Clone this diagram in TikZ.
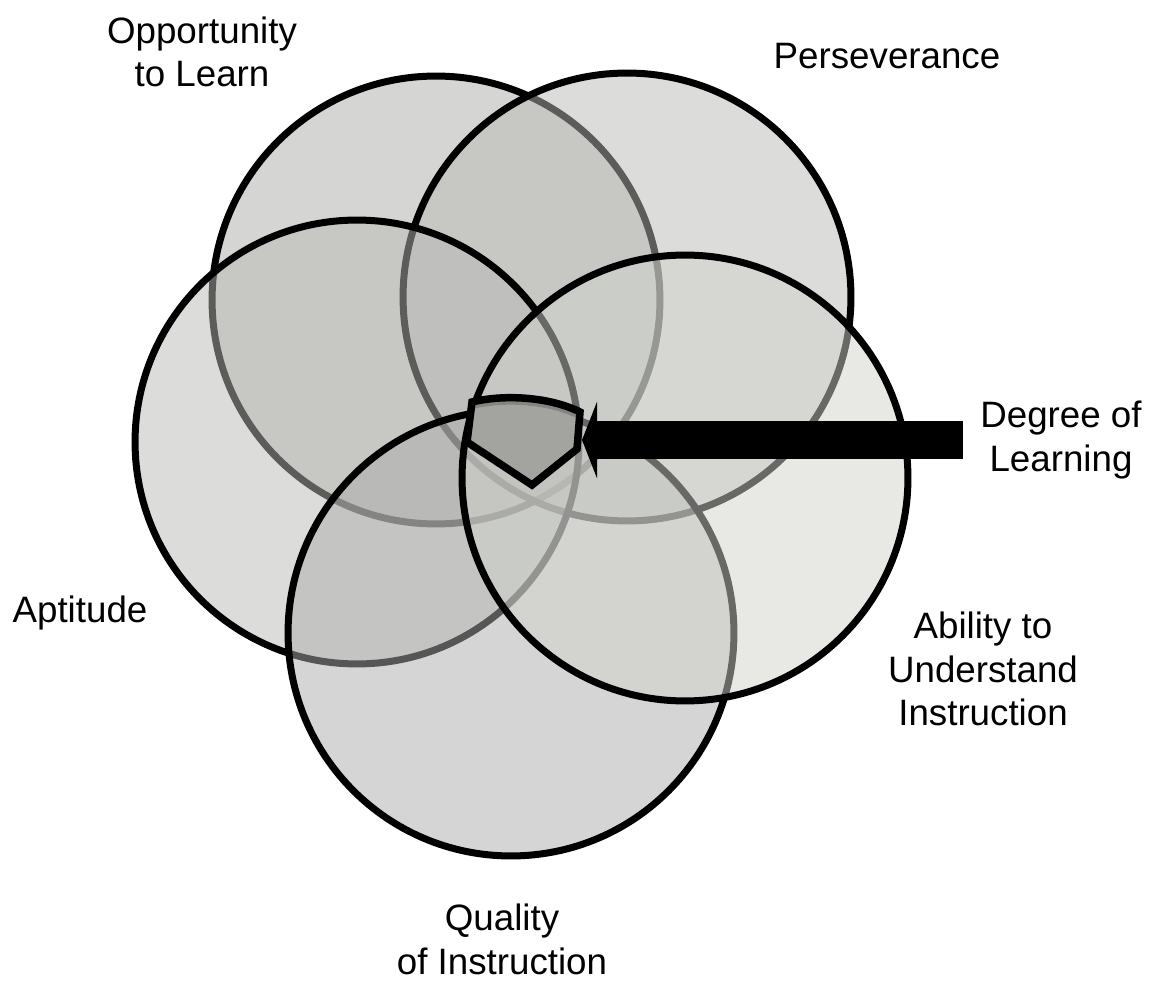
\documentclass[tikz,border=0pt]{standalone}
\usepackage{fontspec}
\setmainfont{Liberation Sans}
\usetikzlibrary{arrows.meta}
\definecolor{cOpp}{RGB}{171,173,167}
\definecolor{cPer}{RGB}{185,186,182}
\definecolor{cApt}{RGB}{185,185,183}
\definecolor{cQua}{RGB}{172,172,172}
\definecolor{cAbi}{RGB}{209,211,204}
\definecolor{shBand}{RGB}{132,133,129}
\definecolor{shFill}{RGB}{163,164,160}
\tikzset{
  venn/.style={draw=black, line width=0.14cm, fill opacity=0.5},
  lbl/.style={font=\fontsize{20.9}{24.9}\selectfont, align=center, inner sep=0pt},
}
\begin{document}
\begin{tikzpicture}[x=0.02cm, y=-0.02cm]
\useasboundingbox (0,0) rectangle (1156,983);
% circles (drawing order matters)
\path[venn, fill=cOpp] (436,300) circle[radius=4.48cm];
\path[venn, fill=cPer] (627,297) circle[radius=4.48cm];
\path[venn, fill=cApt] (357,442) circle[radius=4.44cm];
\path[venn, fill=cQua] (511,633) circle[radius=4.46cm];
\path[venn, fill=cAbi] (685,478) circle[radius=4.46cm];
% shield (degree of learning region)
\coordinate (shieldE) at (582,440);
\begin{scope}
  \clip (472,402) .. controls (505,394) and (550,397) .. (580,412)
    -- (577,449) -- (532,485) -- (467,442) -- cycle;
  \fill[shFill] (460,390) rectangle (590,495);
  \draw[shBand, line width=0.28cm]
    (472,402) .. controls (505,394) and (550,397) .. (580,412);
\end{scope}
\draw[line width=0.15cm, line join=miter]
  (472,402) .. controls (505,394) and (550,397) .. (580,412)
  -- (577,449) -- (532,485) -- (467,442) -- cycle;
% labels
\node[lbl] (opp) at (202,52) {Opportunity\\to Learn};
\node[lbl] (per) at (887,56) {Perseverance};
\node[lbl] (deg) at (1061,440) {Degree of\\Learning};
\node[lbl] (apt) at (80,613) {Aptitude};
\node[lbl] (abi) at (983,669) {Ability to\\Understand\\Instruction};
\node[lbl] (qua) at (502,939) {Quality\\of Instruction};
% arrow
\coordinate (tail) at (963,440);
\draw[line width=0.76cm, -{Triangle[length=0.3cm, width=1.52cm]}] (tail) -- (shieldE);
\end{tikzpicture}
\end{document}
